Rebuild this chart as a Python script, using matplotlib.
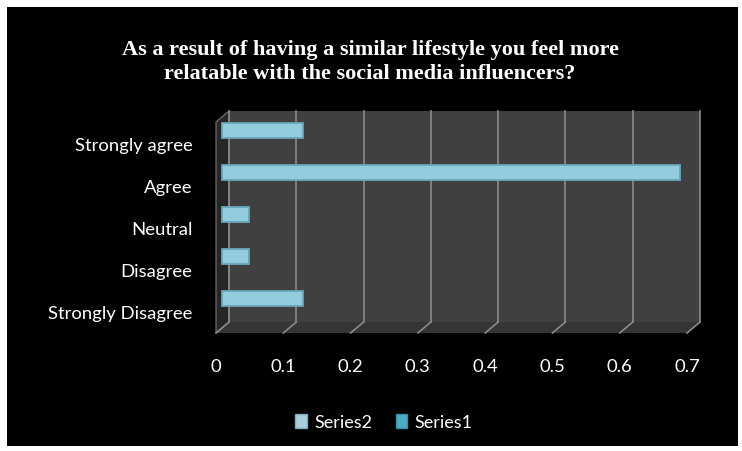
import matplotlib
matplotlib.use("Agg")
import matplotlib.pyplot as plt
from matplotlib.patches import Rectangle, Polygon, Patch
from matplotlib.transforms import ScaledTranslation

categories = ["Strongly agree", "Agree", "Neutral", "Disagree", "Strongly Disagree"]
series2 = [0.12, 0.68, 0.04, 0.04, 0.12]
series1 = [0, 0, 0, 0, 0]
xticks = [0, 0.1, 0.2, 0.3, 0.4, 0.5, 0.6, 0.7]
title = "As a result of having a similar lifestyle you feel more\nrelatable with the social media influencers?"

W, H = 742, 452
fig = plt.figure(figsize=(W / 100, H / 100), dpi=100, facecolor="white")

# black chart area with thin white margin
fig.patches.append(Rectangle((7 / W, 1 - 447 / H), 731 / W, 439 / H,
                             transform=fig.transFigure, facecolor="black",
                             edgecolor="none", zorder=-5))

# front plane of the 3d box
ax = fig.add_axes([216 / W, 1 - 334 / H, 471 / W, 211 / H])
ax.set_facecolor("none")
for s in ax.spines.values():
    s.set_visible(False)
ax.set_xlim(0, 0.7)
ax.set_ylim(len(categories) - 0.5, -0.5)

dx_px, dy_px = 13, 11
back = ScaledTranslation(dx_px / 100, dy_px / 100, fig.dpi_scale_trans)
dxa, dya = dx_px / 471, dy_px / 211
dxd = dxa * 0.7

# back wall, floor, side wall
ax.add_patch(Rectangle((0, 0), 1, 1, transform=ax.transAxes + back,
                       facecolor="#404040", edgecolor="none", zorder=0, clip_on=False))
ax.add_patch(Polygon([(0, 0), (1, 0), (1 + dxa, dya), (dxa, dya)], closed=True,
                     transform=ax.transAxes, facecolor="#353535", edgecolor="none",
                     zorder=0.5, clip_on=False))
ax.add_patch(Polygon([(0, 0), (dxa, dya), (dxa, 1 + dya), (0, 1)], closed=True,
                     transform=ax.transAxes, facecolor="#262626", edgecolor="#777777",
                     linewidth=0.8, zorder=0.6, clip_on=False))

xt = ax.get_xaxis_transform()
for t in xticks:
    ax.plot([t, t], [0, 1], transform=xt + back, color="#8a8a8a", lw=1.2,
            zorder=0.7, clip_on=False)
    ax.plot([t, t + dxd], [0, dya], transform=xt, color="#8a8a8a", lw=1.2,
            zorder=0.7, clip_on=False)

# bars sit in the middle of the depth
mid = ScaledTranslation(6 / 100, 13 / 100, fig.dpi_scale_trans)
ypos = list(range(len(categories)))
b2 = ax.barh(ypos, series2, height=0.36, color="#93cddd", edgecolor="#6aa6ba",
             linewidth=1.3, zorder=3)
b1 = ax.barh(ypos, series1, height=0.36, color="#4bacc6", linewidth=0, zorder=3)
for p in list(b2) + list(b1):
    p.set_transform(ax.transData + mid)
    p.set_clip_on(False)

ax.set_xticks(xticks)
ax.set_xticklabels([f"{t:g}" for t in xticks])
ax.set_yticks(ypos)
ax.set_yticklabels(categories)
ax.tick_params(axis="x", length=0, pad=18, colors="white", labelsize=13.3)
ax.tick_params(axis="y", length=0, pad=17, colors="white", labelsize=13.3)
for lab in ax.get_xticklabels() + ax.get_yticklabels():
    lab.set_family("Lato")

fig.text(370 / W, 1 - 62 / H, title, ha="center", va="center", color="white",
         family="Liberation Serif", fontweight="bold", fontsize=16, linespacing=1.3)

handles = [Patch(facecolor="#a9cfdc", edgecolor="#7fa9b8"),
           Patch(facecolor="#4bacc6", edgecolor="#3b8fa6")]
fig.legend(handles, ["Series2", "Series1"], loc="center", ncol=2,
           bbox_to_anchor=(384 / W, 1 - 423 / H), frameon=False,
           handlelength=0.65, handleheight=0.85, handletextpad=0.4,
           columnspacing=1.3, labelcolor="white", prop={"family": "Lato", "size": 13})

fig.savefig("out.png", dpi=100, facecolor="white")
